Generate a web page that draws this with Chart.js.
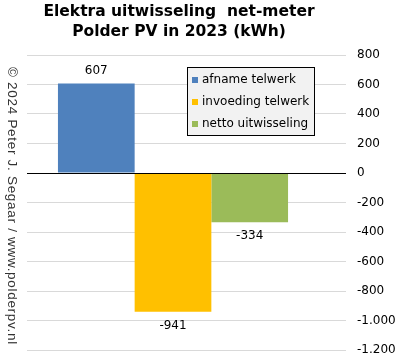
<!DOCTYPE html>
<html>
<head>
<meta charset="utf-8">
<script src="https://cdn.jsdelivr.net/npm/chart.js@4/dist/chart.umd.min.js"></script>
<style>
  html, body { margin: 0; padding: 0; background: #fff; }
  #wrap { width: 401px; height: 361px; position: relative; }
</style>
</head>
<body>
<div id="wrap"><canvas id="c" width="401" height="361"></canvas></div>
<script>
// ---- data ----
const categories = ['2023'];
const seriesLabels = ['afname telwerk', 'invoeding telwerk', 'netto uitwisseling'];
const afname = [607];
const invoeding = [-941];
const netto = [-334];
const yMin = -1200, yMax = 800, yStep = 200;
const titleLines = ['Elektra uitwisseling  net-meter', 'Polder PV in 2023 (kWh)'];
const copyrightText = '\u00A9 2024 Peter J. Segaar / www.polderpv.nl';

function fmtNL(v) {
  const neg = v < 0;
  let s = String(Math.abs(Math.round(v)));
  s = s.replace(/\B(?=(\d{3})+(?!\d))/g, '.');
  return (neg ? '-' : '') + s;
}

const FONT = '"DejaVu Sans", Verdana, sans-serif';
const TICK_LEN = 27;

const zeroLinePlugin = {
  id: 'zeroLine',
  afterDatasetsDraw(chart) {
    const y = chart.scales.y;
    const ca = chart.chartArea;
    const py = Math.round(y.getPixelForValue(0) - 0.5) + 0.5;
    const ctx = chart.ctx;
    ctx.save();
    ctx.strokeStyle = '#000';
    ctx.lineWidth = 1;
    ctx.beginPath();
    ctx.moveTo(ca.left, py);
    ctx.lineTo(y.left + TICK_LEN, py);
    ctx.stroke();
    ctx.restore();
  }
};

const dataLabelPlugin = {
  id: 'dataLabels',
  afterDatasetsDraw(chart) {
    const ctx = chart.ctx;
    ctx.save();
    ctx.font = '12px ' + FONT;
    ctx.fillStyle = '#000';
    ctx.textAlign = 'center';
    chart.data.datasets.forEach((ds, i) => {
      const meta = chart.getDatasetMeta(i);
      meta.data.forEach((bar, j) => {
        const v = ds.data[j];
        if (v >= 0) {
          ctx.textBaseline = 'bottom';
          ctx.fillText(fmtNL(v), bar.x, bar.y - 7);
        } else {
          ctx.textBaseline = 'top';
          ctx.fillText(fmtNL(v), bar.x, bar.y + 8);
        }
      });
    });
    ctx.restore();
  }
};

const legendPlugin = {
  id: 'boxLegend',
  afterDraw(chart) {
    const ctx = chart.ctx;
    const bx = 187, by = 67, bw = 128, bh = 69;
    ctx.save();
    ctx.fillStyle = '#f2f2f2';
    ctx.fillRect(bx, by, bw, bh);
    ctx.strokeStyle = '#000';
    ctx.lineWidth = 1;
    ctx.strokeRect(bx + 0.5, by + 0.5, bw - 1, bh - 1);
    ctx.font = '12px ' + FONT;
    ctx.textBaseline = 'middle';
    ctx.textAlign = 'left';
    chart.data.datasets.forEach((ds, i) => {
      const cy = by + 13 + i * 22;
      ctx.fillStyle = ds.backgroundColor;
      ctx.fillRect(bx + 5, cy - 3, 6, 6);
      ctx.fillStyle = '#000';
      ctx.fillText(ds.label, bx + 15, cy);
    });
    ctx.restore();
  }
};

const textPlugin = {
  id: 'texts',
  afterDraw(chart) {
    const ctx = chart.ctx;
    ctx.save();
    ctx.fillStyle = '#000';
    ctx.font = 'bold 15.5px ' + FONT;
    ctx.textAlign = 'center';
    ctx.textBaseline = 'alphabetic';
    ctx.fillText(titleLines[0], 179, 16);
    ctx.fillText(titleLines[1], 179, 36);
    ctx.restore();

    ctx.save();
    ctx.fillStyle = '#333';
    ctx.font = '13.5px "Liberation Sans", Arial, sans-serif';
    try { ctx.letterSpacing = '0.7px'; } catch (e) {}
    ctx.translate(7.5, 67);
    ctx.rotate(Math.PI / 2);
    ctx.textAlign = 'left';
    ctx.textBaseline = 'alphabetic';
    ctx.fillText(copyrightText, 0, 0);
    ctx.restore();
  }
};

new Chart(document.getElementById('c'), {
  type: 'bar',
  data: {
    labels: categories,
    datasets: [
      { label: seriesLabels[0], data: afname, backgroundColor: '#4f81bd' },
      { label: seriesLabels[1], data: invoeding, backgroundColor: '#ffc000' },
      { label: seriesLabels[2], data: netto, backgroundColor: '#9bbb59' }
    ]
  },
  options: {
    responsive: false,
    animation: false,
    devicePixelRatio: 1,
    layout: { padding: { top: 55, left: 27, right: 4, bottom: 11 } },
    datasets: { bar: { categoryPercentage: 0.788, barPercentage: 1.0, borderWidth: 0 } },
    plugins: {
      legend: { display: false },
      title: { display: false },
      tooltip: { enabled: false }
    },
    scales: {
      x: { display: false },
      y: {
        position: 'right',
        min: yMin,
        max: yMax,
        afterFit(scale) {
          scale.width = 78;
          scale.paddingTop = 0;
          scale.paddingBottom = 0;
        },
        border: { display: false },
        grid: {
          color: (c) => (c.tick && c.tick.value === 0) ? '#000' : '#d9d9d9',
          lineWidth: 1,
          drawTicks: true,
          tickLength: TICK_LEN
        },
        ticks: {
          stepSize: yStep,
          padding: 11,
          color: '#000',
          font: { family: FONT, size: 12 },
          callback: (v) => fmtNL(v)
        }
      }
    }
  },
  plugins: [zeroLinePlugin, dataLabelPlugin, legendPlugin, textPlugin]
});
</script>
</body>
</html>
